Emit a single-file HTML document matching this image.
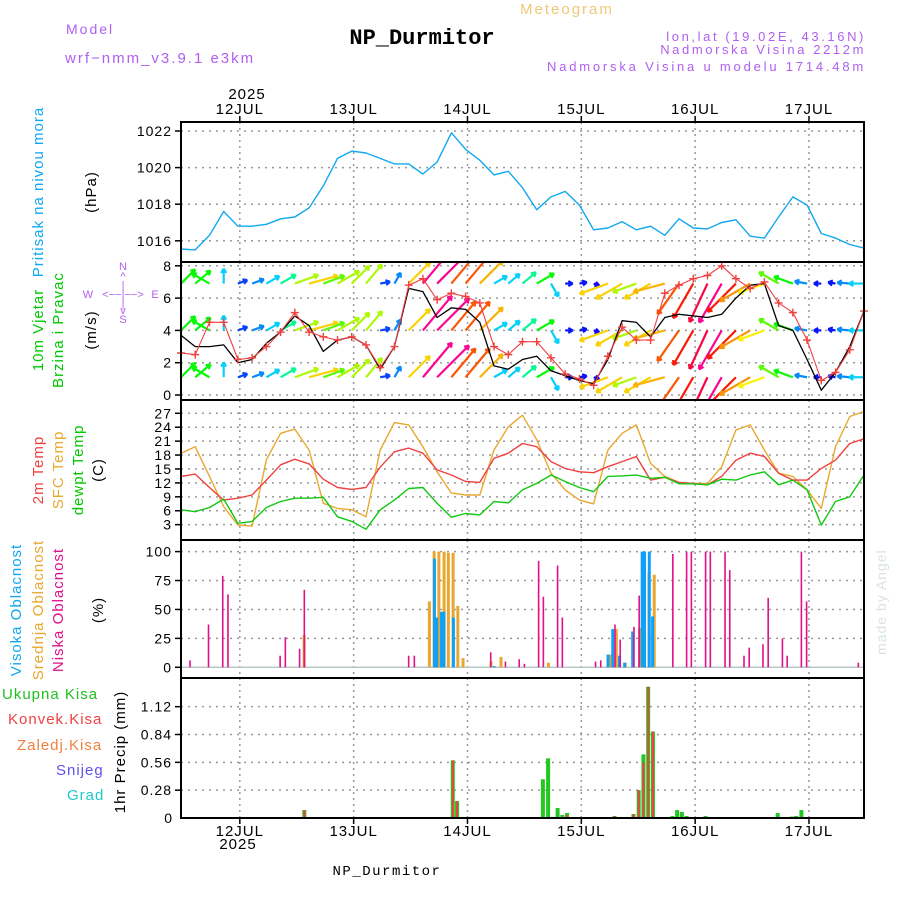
<!DOCTYPE html>
<html><head><meta charset="utf-8"><style>
body{margin:0;background:#fff;}
svg{display:block;font-family:"Liberation Sans",sans-serif;}
</style></head><body>
<svg id="c" width="900" height="900" viewBox="0 0 900 900">
<text x="66" y="34" fill="#b060f0" font-size="14" letter-spacing="2">Model</text>
<text x="65" y="63" fill="#b060f0" font-size="15" letter-spacing="2">wrf−nmm_v3.9.1 e3km</text>
<text x="520" y="14" fill="#f0c878" font-size="15" letter-spacing="2">Meteogram</text>
<text x="422" y="44" fill="#000" font-size="22" font-weight="bold" text-anchor="middle" font-family="Liberation Mono, monospace">NP_Durmitor</text>
<text x="866" y="41" fill="#b060f0" font-size="13" text-anchor="end" letter-spacing="2.6">lon,lat (19.02E, 43.16N)</text>
<text x="866" y="54" fill="#b060f0" font-size="13" text-anchor="end" letter-spacing="2.6">Nadmorska Visina 2212m</text>
<text x="866" y="71" fill="#b060f0" font-size="13" text-anchor="end" letter-spacing="2.8">Nadmorska Visina u modelu 1714.48m</text>
<text x="247" y="99" font-size="15" text-anchor="middle" letter-spacing="1">2025</text>
<text x="238" y="849" font-size="15" text-anchor="middle" letter-spacing="1">2025</text>
<text x="387" y="875" font-size="14" text-anchor="middle" letter-spacing="1.5" font-family="Liberation Mono, monospace">NP_Durmitor</text>
<text transform="translate(886,655) rotate(-90)" fill="#d8e4dc" font-size="14" letter-spacing="1">made by Angel</text>

<g font-size="15" letter-spacing="1">
<text transform="translate(43,192) rotate(-90)" fill="#10a8f0" text-anchor="middle">Pritisak na nivou mora</text>
<text transform="translate(96,192) rotate(-90)" text-anchor="middle">(hPa)</text>
<text transform="translate(43,330) rotate(-90)" fill="#00c800" text-anchor="middle">10m Vjetar</text>
<text transform="translate(63,330) rotate(-90)" fill="#00c800" text-anchor="middle">Brzina i Pravac</text>
<text transform="translate(96,330) rotate(-90)" text-anchor="middle">(m/s)</text>
<text transform="translate(43,470) rotate(-90)" fill="#f04040" text-anchor="middle">2m Temp</text>
<text transform="translate(63,470) rotate(-90)" fill="#e8a830" text-anchor="middle">SFC Temp</text>
<text transform="translate(83,470) rotate(-90)" fill="#00c800" text-anchor="middle">dewpt Temp</text>
<text transform="translate(103,470) rotate(-90)" text-anchor="middle">(C)</text>
<text transform="translate(21,610) rotate(-90)" fill="#10a8f0" text-anchor="middle">Visoka Oblacnost</text>
<text transform="translate(43,610) rotate(-90)" fill="#e8a830" text-anchor="middle">Srednja Oblacnost</text>
<text transform="translate(63,610) rotate(-90)" fill="#e0108a" text-anchor="middle">Niska Oblacnost</text>
<text transform="translate(103,610) rotate(-90)" text-anchor="middle">(%)</text>
<text transform="translate(125,752) rotate(-90)" text-anchor="middle">1hr Precip (mm)</text>
<text x="2" y="699" fill="#20c020">Ukupna Kisa</text>
<text x="8" y="724" fill="#f04040">Konvek.Kisa</text>
<text x="17" y="750" fill="#f08040">Zaledj.Kisa</text>
<text x="56" y="775" fill="#6050f0">Snijeg</text>
<text x="67" y="800" fill="#20c8c8">Grad</text>
</g>
<g fill="#b060f0" font-size="11" text-anchor="middle">
<text x="123" y="270">N</text><text x="123" y="280">^</text><text x="123" y="289">|</text>
<text x="123" y="298">&lt;−−|−−&gt;</text><text x="88" y="298">W</text><text x="155" y="298">E</text>
<text x="123" y="307">|</text><text x="123" y="314">v</text><text x="123" y="323">S</text>
</g>
<g id="plot"></g>
</svg>
<script>
// ---- data (3-hourly from 11 JUL ~12h) ----
const dayLabels=["12JUL","13JUL","14JUL","15JUL","16JUL","17JUL"];
const pressure=[1015.55,1015.5,1016.3,1017.6,1016.8,1016.8,1016.9,1017.2,1017.3,1017.8,1019.0,1020.5,1020.9,1020.8,1020.5,1020.2,1020.2,1019.65,1020.3,1021.9,1021.0,1020.4,1019.6,1019.8,1018.9,1017.7,1018.4,1018.7,1017.95,1016.6,1016.7,1017.05,1016.6,1016.8,1016.3,1017.2,1016.7,1016.65,1017.0,1017.15,1016.25,1016.15,1017.3,1018.4,1017.95,1016.4,1016.15,1015.8,1015.6];
const pressureTicks=[1016,1018,1020,1022];
const windSpeed=[3.7,3.0,3.0,3.1,2.0,2.2,3.2,3.9,4.9,4.3,2.7,3.4,3.6,3.1,1.6,3.0,6.6,6.4,4.8,5.4,5.3,4.5,1.8,1.6,2.2,2.4,1.5,1.2,0.9,0.7,2.2,4.6,4.5,3.6,4.8,5.0,4.9,4.8,5.0,6.0,6.8,6.9,4.3,4.0,2.2,0.3,1.4,3.0,5.2];
const windGust=[2.6,2.5,4.5,4.5,2.2,2.3,3.0,3.9,5.1,3.9,3.6,3.4,3.6,3.1,1.7,3.0,6.8,7.2,5.9,6.3,6.1,5.7,3.0,2.5,3.3,3.3,2.3,1.3,1.0,0.6,2.4,4.2,3.4,3.4,6.3,6.8,7.2,7.4,8.0,7.2,6.6,7.0,5.7,5.1,3.4,0.9,1.4,2.8,5.2];
const arrowDir=[45,40,150,90,20,20,30,30,20,15,20,30,45,50,10,60,45,50,45,50,50,45,30,40,40,30,-60,0,10,-20,200,210,200,210,195,235,240,245,240,225,210,200,150,160,170,180,170,175,180];
const arrowSpd=[4,4,4,3,2,2.5,3,3.5,5,6,4.5,5,5,5,2,2.5,6,9,9,7.5,7.5,6.5,3,3,3.5,4,3,1.5,1.5,1.2,6,6,5,6,6.5,7.5,8,8.5,9,8,7,5.5,4.5,4,2.5,1.5,1.5,2.5,3];
const windTicks=[0,2,4,6,8];
const arrowLevels=[1.1,4.0,6.9];
const temp2m=[13.4,13.9,11.0,8.3,8.7,9.4,12.6,15.9,17.1,16.1,12.8,11.0,10.6,11.0,15.4,18.7,19.5,18.4,14.8,13.7,12.3,12.1,17.3,18.4,20.5,19.8,16.6,15.1,14.4,14.2,15.5,16.6,17.7,12.6,13.2,12.1,11.9,11.6,13.4,16.9,18.4,17.7,14.1,12.6,12.6,15.1,16.9,20.5,21.5];
const tempSfc=[18.4,19.8,13.4,6.9,2.9,2.7,17.0,22.7,23.6,19.1,7.6,6.5,6.2,4.7,19.1,25.0,24.5,19.8,14.4,9.8,9.4,9.4,19.1,24.1,26.6,21.3,14.1,10.5,8.3,7.5,19.1,22.7,24.5,16.2,13.4,12.1,11.9,11.9,15.5,23.4,24.5,19.1,14.1,13.4,10.5,6.5,19.8,26.3,27.4];
const tempDew=[6.2,5.8,6.7,8.5,3.3,3.7,6.7,8.0,8.7,8.7,8.9,4.7,3.7,2.0,6.2,8.3,10.8,11.0,7.6,4.6,5.4,5.1,8.0,7.7,10.5,11.9,13.7,12.3,11.0,10.1,13.4,13.5,13.7,13.0,13.2,11.8,11.8,11.6,12.8,12.6,13.7,14.4,11.6,12.6,10.5,2.9,8.0,9.0,13.7];
const tempTicks=[3,6,9,12,15,18,21,24,27];
const lowHour=[1.9,5.8,8.8,9.9,20.9,22,25,26,48,49.2,65.3,68.4,71.3,72.4,75.4,76.4,79.4,80.4,87.4,88.5,91.5,92.6,95.5,96.6,103.7,106.6,107.6,110.6,111.6,114.7,115.7,118.7,119.8,122.7,123.8,126.8,127.8,130.8,131.9,142.8];
const lowVal=[6,37,79,63,10,26,16,67,10,10,13,5,7,3,92,61,88,43,5,6,37,24,35,62,98,100,100,100,100,100,84,10,17,20,60,25,10,100,57,4];
const midHour=[25.8,52.2,53.2,54.2,55.3,56.2,57.2,58.2,59.3,65.2,67.3,77.3,90.4,91.6,93.5,96.5,97.5,98.5,99.6];
const midVal=[28,57,100,100,100,99,99,53,8,5,9,4,11,33,4,34,36,82,80];
const highHour=[53.6,54.1,55.1,55.6,57.6,66.2,90.2,91.2,92.6,93.7,95.4,97.4,97.9,98.9,99.6];
const highVal=[94,43,48,48,43,1,11,33,10,4,31,100,100,100,44];
const cloudTicks=[0,25,50,75,100];
const rainHour=[3.8,26,57.3,58.2,67.2,75.3,76.3,77.4,79.4,80.4,81.4,91.4,95.4,96.5,97.5,98.5,99.5,103.6,104.6,105.6,106.6,110.6,125.8,128.8,129.7,130.8];
const rainTotal=[0.01,0.08,0.58,0.17,0.01,0.01,0.39,0.6,0.1,0.03,0.05,0.02,0.04,0.28,0.64,1.32,0.87,0.02,0.08,0.06,0.02,0.02,0.05,0.015,0.02,0.08];
const convHour=[26,57.3,58.2,81.4,91.4,95.4,96.5,97.5,98.5,99.5];
const convVal=[0.08,0.58,0.17,0.03,0.02,0.04,0.28,0.56,1.32,0.87];
const precipTicks=[0,0.28,0.56,0.84,1.12];
const dayHours=[12.4,36.4,60.4,84.4,108.4,132.4];

// ---- axes ----
const X0=181,X1=864,PXH=(X1-X0)/144;
const X=t=>X0+t*PXH;
const Yp=v=>131-(v-1022)*18.3;
const Yw=v=>395-v*16.15;
const Yt=v=>413.3-(v-27)*4.64;
const Yc=v=>667.3-v*1.157;
const Yr=v=>818-v*99.4;
const panels=[[122,262,'pressure'],[262,400,'wind'],[400,540,'temperature'],[540,678,'cloud'],[678,818,'precip']];
const NS='http://www.w3.org/2000/svg';
const g=document.getElementById('plot');
function el(tag,attrs,parent){const e=document.createElementNS(NS,tag);for(const k in attrs)e.setAttribute(k,attrs[k]);(parent||g).appendChild(e);return e;}

// grids
panels.forEach(p=>{
  dayHours.forEach(h=>{
    const l=el('line',{x1:X(h),x2:X(h),y1:p[0],y2:p[1],stroke:'#999','stroke-width':1.5,'stroke-dasharray':'2,4'});
    
    
  });
});
function hTicks(ticks,Y,fmt,name){
  ticks.forEach(v=>{
    const y=Y(v);
    const l=el('line',{x1:X0,x2:X1,y1:y,y2:y,stroke:'#999','stroke-width':1.5,'stroke-dasharray':'2,5'});
    
    
    el('line',{x1:X0-6,x2:X0,y1:y,y2:y,stroke:'#000','stroke-width':1.5});
    const t=el('text',{x:X0-9,y:y+5,'text-anchor':'end','font-size':14,'letter-spacing':1});
    t.textContent=fmt(v);
    
    
  });
}
hTicks(pressureTicks,Yp,v=>v,'pressure');
hTicks(windTicks,Yw,v=>v,'wind');
hTicks(tempTicks,Yt,v=>v,'temp');
hTicks(cloudTicks,Yc,v=>v,'cloud');
hTicks(precipTicks.slice(1),Yr,v=>v.toFixed(2),'precip');
{const t=el('text',{x:X0-9,y:Yr(0)+5,'text-anchor':'end','font-size':14});t.textContent='0';

}

dayLabels.forEach((d,i)=>{
  const t1=el('text',{x:X(dayHours[i]),y:114,'text-anchor':'middle','font-size':15,'letter-spacing':1});t1.textContent=d;
  
  
  const t2=el('text',{x:X(dayHours[i]),y:836,'text-anchor':'middle','font-size':15,'letter-spacing':1});t2.textContent=d;
  
  
  el('line',{x1:X(dayHours[i]),x2:X(dayHours[i]),y1:116,y2:122,stroke:'#000','stroke-width':1.5});
  el('line',{x1:X(dayHours[i]),x2:X(dayHours[i]),y1:818,y2:824,stroke:'#000','stroke-width':1.5});
});

function series(arr,Y,color,name,w){
  const pts=arr.map((v,i)=>X(i*3).toFixed(1)+','+Y(v).toFixed(1)).join(' ');
  const p=el('polyline',{points:pts,fill:'none',stroke:color,'stroke-width':w||1.4,'stroke-linejoin':'round'});
  
  
}
series(pressure,Yp,'#10a8f0','pressure-line');

// wind arrows
function spdColor(s){
  const stops=[[0,270],[2,225],[3,190],[4,120],[5.5,58],[7,35],[8,5],[9,-35]];
  let h=270;
  for(let i=0;i<stops.length-1;i++){const a=stops[i],b=stops[i+1];if(s>=a[0]&&s<=b[0]){h=a[1]+(b[1]-a[1])*(s-a[0])/(b[0]-a[0]);}}
  if(s>9)h=-35;
  return 'hsl('+((h+360)%360)+',95%,50%)';
}
const clip=el('clipPath',{id:'windclip'});
el('rect',{x:X0,y:262,width:X1-X0,height:138},clip);
const wg=el('g',{'clip-path':'url(#windclip)'});
arrowLevels.forEach(lv=>{
  arrowDir.forEach((d,i)=>{
    const s=arrowSpd[i],L=s*5,r=d*Math.PI/180;
    const x=X(i*3),y=Yw(lv),x2=x+L*Math.cos(r),y2=y-L*Math.sin(r);
    const c=spdColor(s);
    const a=el('g',{stroke:c,'stroke-width':2.2,fill:'none'},wg);
    
    
    el('line',{x1:x,y1:y,x2:x2,y2:y2},a);
    [150,-150].forEach(o=>{const rr=r+o*Math.PI/180;el('line',{x1:x2,y1:y2,x2:x2+5*Math.cos(rr),y2:y2-5*Math.sin(rr)},a);});
  });
});
series(windSpeed,Yw,'#000','wind-speed-line',1.3);
series(windGust,Yw,'#f04040','wind-gust-line',1.1);
windGust.forEach((v,i)=>{
  const x=X(i*3),y=Yw(v);
  const m=el('path',{d:`M${x-4},${y}H${x+4}M${x},${y-4}V${y+4}`,stroke:'#f04040','stroke-width':1.4});
  
  
});

series(tempSfc,Yt,'#e8a830','sfc-temp-line');
series(temp2m,Yt,'#f04040','temp-2m-line');
series(tempDew,Yt,'#10c810','dewpoint-line');

// clouds
el('line',{x1:X0,x2:X1,y1:Yc(0),y2:Yc(0),stroke:'#b8c8c8','stroke-width':1.5});
function bars(hours,vals,Y,color,w,name,dx){
  hours.forEach((h,i)=>{
    const x=X(h)+(dx||0),y=Y(vals[i]),y0=Y(0);
    const b=el('rect',{x:x-w/2,y:y,width:w,height:Math.max(0,y0-y),fill:color});
    
    
  });
}
bars(midHour,midVal,Yc,'#e8a830',3,'mid-cloud-bar',0.8);
bars(highHour,highVal,Yc,'#10a0f8',3,'high-cloud-bar',-0.8);
bars(lowHour,lowVal,Yc,'#e0108a',1.6,'low-cloud-bar');

// precip
bars(rainHour,rainTotal,Yr,'#20c820',4,'total-rain-bar');
bars(convHour,convVal,Yr,'#f04040',2,'convective-rain-bar');

// frames
panels.forEach(p=>{
  const r=el('rect',{x:X0,y:p[0],width:X1-X0,height:p[1]-p[0],fill:'none',stroke:'#000','stroke-width':2});
  
  
});
</script>
</body></html>
